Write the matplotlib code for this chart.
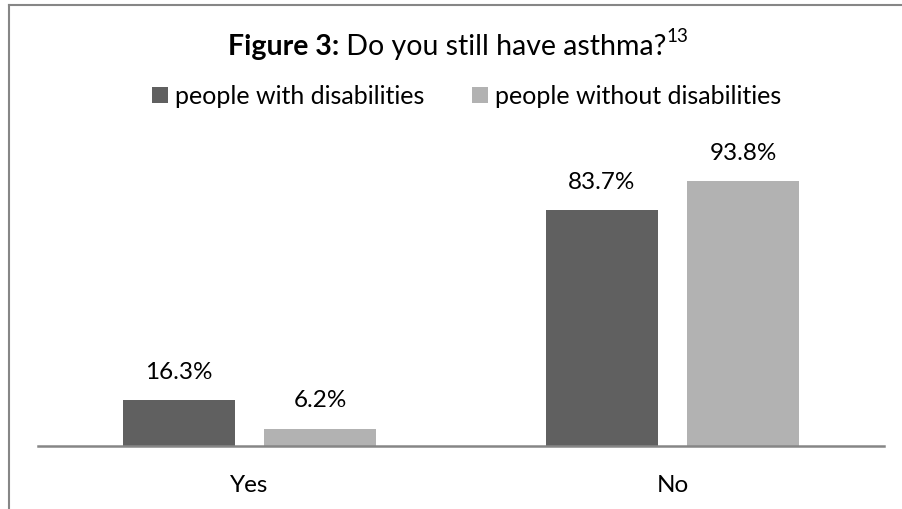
import matplotlib
matplotlib.use("Agg")
import matplotlib.pyplot as plt
import numpy as np

plt.rcParams['font.family'] = ['Lato', 'DejaVu Sans']

categories = ["Yes", "No"]
with_dis = [16.3, 83.7]
without_dis = [6.2, 93.8]
series_names = ["people with disabilities", "people without disabilities"]
colors = ["#606060", "#b2b2b2"]

W, H = 902, 510
fig = plt.figure(figsize=(W / 100, H / 100), dpi=100)
ax = fig.add_axes([38 / W, 1 - 447 / H, (884 - 38) / W, 282 / H])

x = np.arange(len(categories))
bw = 0.265
off = 0.1667
b1 = ax.bar(x - off, with_dis, bw, color=colors[0], label=series_names[0])
b2 = ax.bar(x + off, without_dis, bw, color=colors[1], label=series_names[1])

for bars, vals in [(b1, with_dis), (b2, without_dis)]:
    for r, v in zip(bars, vals):
        ax.annotate(f"{v}%", (r.get_x() + r.get_width() / 2, v), xytext=(0, 13),
                    textcoords="offset points", ha="center", va="bottom", fontsize=17.5)

ax.set_xlim(-0.5, 1.5)
ax.set_ylim(0, 100)
ax.set_xticks(x)
ax.set_xticklabels(categories, fontsize=17.5)
ax.tick_params(axis="x", length=0, pad=20)
ax.set_yticks([])
for s in ["top", "right", "left"]:
    ax.spines[s].set_visible(False)
ax.spines["bottom"].set_color("#868686")
ax.spines["bottom"].set_linewidth(1.8)

# title with bold part and superscript
fig.canvas.draw()
r = fig.canvas.get_renderer()
ty = 1 - 47 / H
parts = [("Figure 3:", "bold", 20.5), (" Do you still have asthma?", "normal", 20.5)]
texts = []
for s, w, fs in parts:
    texts.append(fig.text(0, ty, s, fontweight=w, fontsize=fs, va="center", ha="left"))
sup = fig.text(0, ty + 10 / H, "13", fontsize=13.5, va="center", ha="left")
widths = [t.get_window_extent(r).width for t in texts] + [sup.get_window_extent(r).width]
xs = 458 - sum(widths) / 2
for t, wd in zip(texts + [sup], widths):
    t.set_x(xs / W)
    xs += wd

# legend
fig.legend(handles=[b1, b2], loc="center", bbox_to_anchor=(467 / W, 1 - 97 / H), ncol=2,
           frameon=False, fontsize=18, handlelength=0.62, handleheight=0.62,
           handletextpad=0.3, columnspacing=1.9)

# figure border (left and top visible)
fig.add_artist(plt.Line2D([8.5 / W, 8.5 / W], [0, 1 - 6 / H], color="#868686", lw=1.5))
fig.add_artist(plt.Line2D([8.5 / W, 1], [1 - 6 / H, 1 - 6 / H], color="#868686", lw=1.5))

fig.savefig("out.png", dpi=100)
